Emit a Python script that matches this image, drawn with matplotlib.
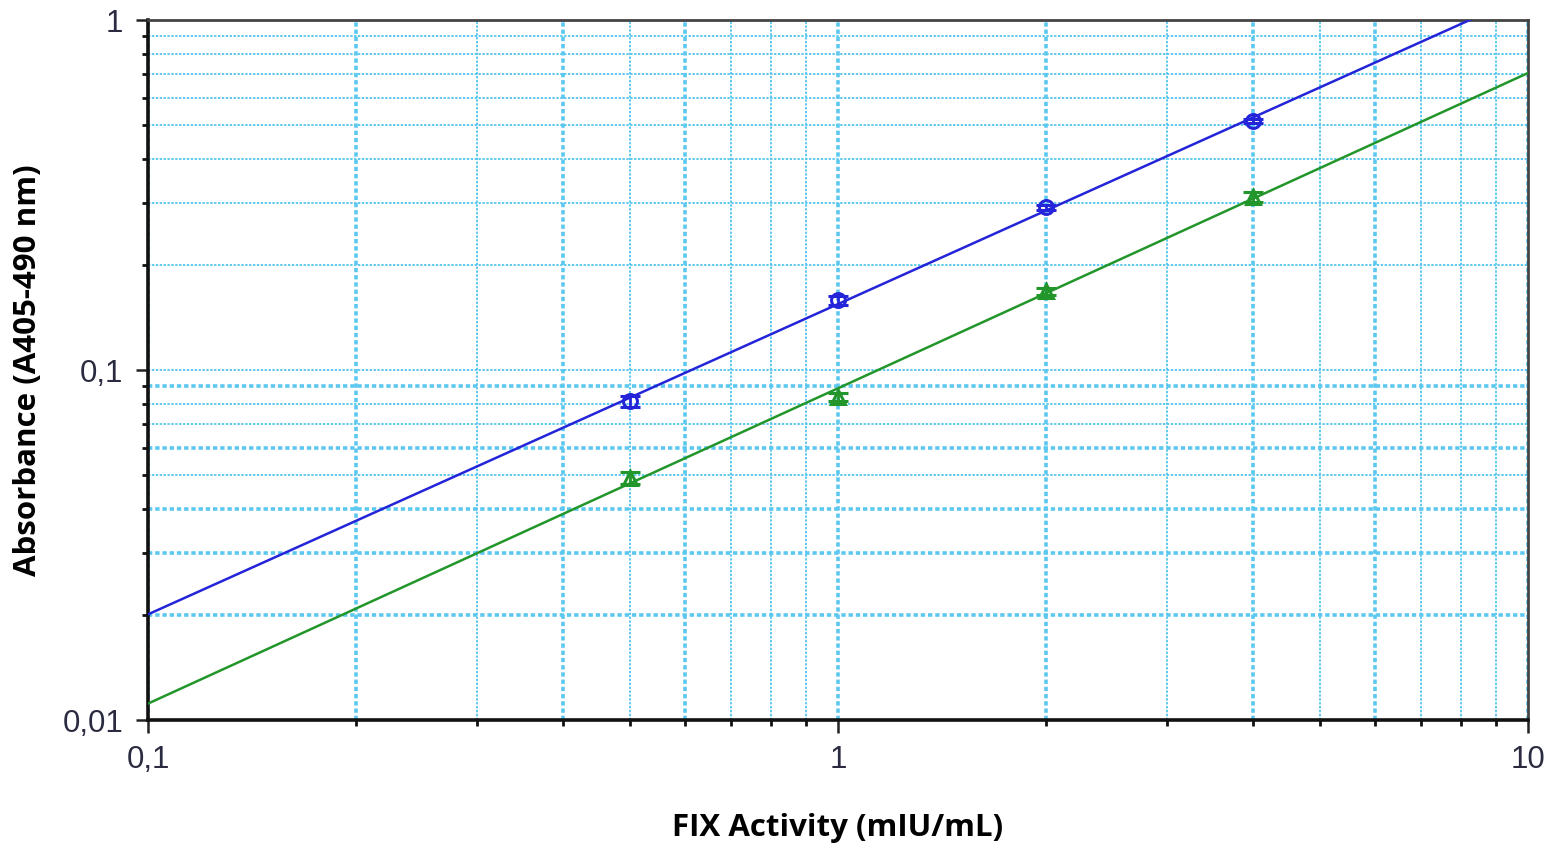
import numpy as np
import matplotlib
matplotlib.use("Agg")
import matplotlib.pyplot as plt
from matplotlib.ticker import LogLocator, NullFormatter

# FIX activity standards (mIU/mL)
conc = [0.5, 1, 2, 4]

# absorbance, two series
abs_blue = [0.0815, 0.158, 0.292, 0.515]
err_blue = [0.003, 0.005, 0.005, 0.008]
abs_green = [0.0491, 0.0837, 0.168, 0.312]
err_green = [0.002, 0.002, 0.004, 0.010]

x_ticks = [0.1, 1, 10]
x_ticklabels = ["0,1", "1", "10"]
y_ticks = [0.01, 0.1, 1]
y_ticklabels = ["0,01", "0,1", "1"]

grid_col = "#5cc8f0"
blue = "#2424d8"
green = "#22962a"

fig = plt.figure(figsize=(15.5, 8.44), dpi=100)
ax = fig.add_axes([148/1550, 1 - 720/844, 1380/1550, 700/844])
ax.set_xscale("log")
ax.set_yscale("log")

# power-law fit through each series (linear in log-log)
xfit = np.geomspace(0.1, 10, 200)
for yv, ev, col, mk in [(abs_blue, err_blue, blue, "o"), (abs_green, err_green, green, "^")]:
    b, a = np.polyfit(np.log10(conc), np.log10(yv), 1)
    ax.plot(xfit, 10**a * xfit**b, color=col, lw=1.8, zorder=3)
    ax.errorbar(conc, yv, yerr=ev, fmt=mk, ms=10, mfc="none", mec=col, mew=2.2,
                ecolor=col, elinewidth=2, capsize=7, capthick=2.2, zorder=4)

ax.xaxis.set_minor_locator(LogLocator(base=10, subs=np.arange(2, 10)))
ax.yaxis.set_minor_locator(LogLocator(base=10, subs=np.arange(2, 10)))
ax.set_xticks(x_ticks)
ax.set_yticks(y_ticks)
ax.set_xticklabels(x_ticklabels)
ax.set_yticklabels(y_ticklabels)
ax.xaxis.set_minor_formatter(NullFormatter())
ax.yaxis.set_minor_formatter(NullFormatter())
ax.set_xlim(0.1, 10)
ax.set_ylim(0.01, 1)

ax.grid(True, which="both", color=grid_col, linestyle=(0, (1.2, 0.8)), lw=1.4, zorder=0)
ax.set_axisbelow(True)

ax.tick_params(which="major", direction="out", length=9, width=1.8, colors="#222",
               labelsize=22.5, pad=9)
ax.tick_params(which="minor", direction="out", length=4, width=2, colors="#111")
for lab in ax.get_xticklabels() + ax.get_yticklabels():
    lab.set_fontfamily("Liberation Sans")
    lab.set_color("#2a2a40")

for s in ["left", "bottom"]:
    ax.spines[s].set_linewidth(2.6)
    ax.spines[s].set_color("#111")
for s in ["top", "right"]:
    ax.spines[s].set_linewidth(2)
    ax.spines[s].set_color("#444")

ax.set_xlabel("FIX Activity (mIU/mL)", fontsize=22.5, fontweight="bold",
              fontfamily="Open Sans", va="center")
ax.set_ylabel("Absorbance (A405-490 nm)", fontsize=22.5, fontweight="bold",
              fontfamily="Open Sans", va="center")
ax.xaxis.set_label_coords(0.5, -0.154)
ax.yaxis.set_label_coords(-0.087, 0.5)

fig.canvas.draw()

# some grid lines are drawn heavier in the original
for t in ax.xaxis.get_minor_ticks() + ax.xaxis.get_major_ticks():
    v = t.get_loc()
    if v and v > 0:
        m = round(v / 10**np.floor(np.log10(v) + 1e-9))
        if m in (1, 2, 4, 6):
            t.gridline.set_linewidth(2.6)
for t in ax.yaxis.get_minor_ticks():
    v = t.get_loc()
    if v and 0 < v < 0.095 and round(v * 100) in (2, 3, 4, 6, 9):
        t.gridline.set_linewidth(2.6)

fig.savefig("out.png", dpi=100)
